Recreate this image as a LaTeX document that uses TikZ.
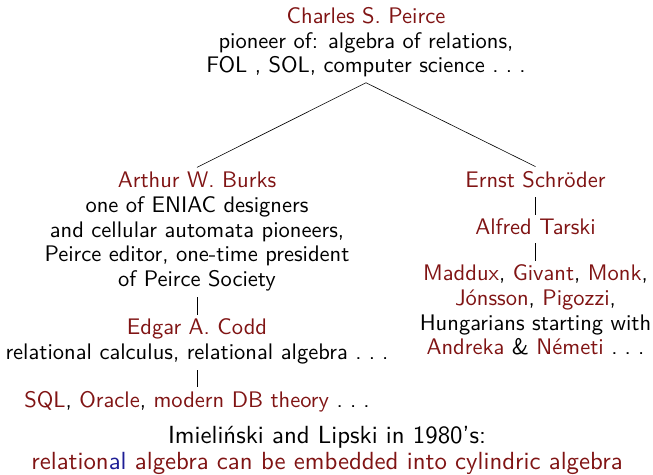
\documentclass[tikz,border=0pt]{standalone}
\usepackage{xcolor}
\usepackage{fontspec}
\newfontfamily\lmsten[Extension=.otf]{lmsans10-regular}
\definecolor{dr}{RGB}{128,20,20}
\definecolor{db}{RGB}{30,30,150}
\newcommand{\nm}[1]{\textcolor{dr}{#1}}
\newcommand{\sdots}{.\kern.32em.\kern.32em.}
\begin{document}
\begin{tikzpicture}[x=1bp,y=-1bp,
  txt/.style={align=center,font=\lmsten\fontsize{22.6}{24.8}\selectfont,inner sep=0bp},
  big/.style={align=center,font=\lmsten\fontsize{24.9}{25.5}\selectfont,inner sep=0bp},
  edge/.style={draw=black,line width=0.6bp}]
\useasboundingbox (0,0) rectangle (653,475);
\node[txt] (peirce) at (366,42.4) {\nm{Charles S. Peirce}\\pioneer of: algebra of relations,\\FOL , SOL, computer science \sdots};
\node[txt] (burks) at (197,231.6) {\nm{Arthur W. Burks}\\one of ENIAC designers\\and cellular automata pioneers,\\Peirce editor, one-time president\\of Peirce Society};
\node[txt] (codd) at (197,341.6) {\nm{Edgar A. Codd}\\relational calculus, relational algebra \sdots};
\node[txt] (sql) at (197,402.2) {\nm{SQL}, \nm{Oracle}, \nm{modern DB theory} \sdots};
\node[txt] (schroeder) at (535.5,180) {\nm{Ernst Schröder}};
\node[txt] (tarski) at (535.5,227) {\nm{Alfred Tarski}};
\node[txt] (others) at (535.5,310.2) {\nm{Maddux}, \nm{Givant}, \nm{Monk},\\\nm{Jónsson}, \nm{Pigozzi},\\Hungarians starting with\\\nm{Andreka} \& \nm{Németi} \sdots};
\node[big] (imiel) at (327,450.5) {Imieliński and Lipski in 1980’s:\\\textcolor{dr}{relation}\textcolor{db}{al} \textcolor{dr}{algebra can be embedded into cylindric algebra}};
\draw[edge] ([yshift=-5.2bp]peirce.south) -- ([yshift=4.5bp]burks.north);
\draw[edge] ([yshift=-5.2bp]peirce.south) -- ([yshift=4.9bp]schroeder.north);
\draw[edge] ([yshift=-6bp]burks.south) -- ([yshift=4.2bp]codd.north);
\draw[edge] ([yshift=-6bp]codd.south) -- ([yshift=4.2bp]sql.north);
\draw[edge] ([yshift=-8.8bp]schroeder.south) -- ([yshift=4bp]tarski.north);
\draw[edge] ([yshift=-8bp]tarski.south) -- ([yshift=4.2bp]others.north);
\end{tikzpicture}
\end{document}
